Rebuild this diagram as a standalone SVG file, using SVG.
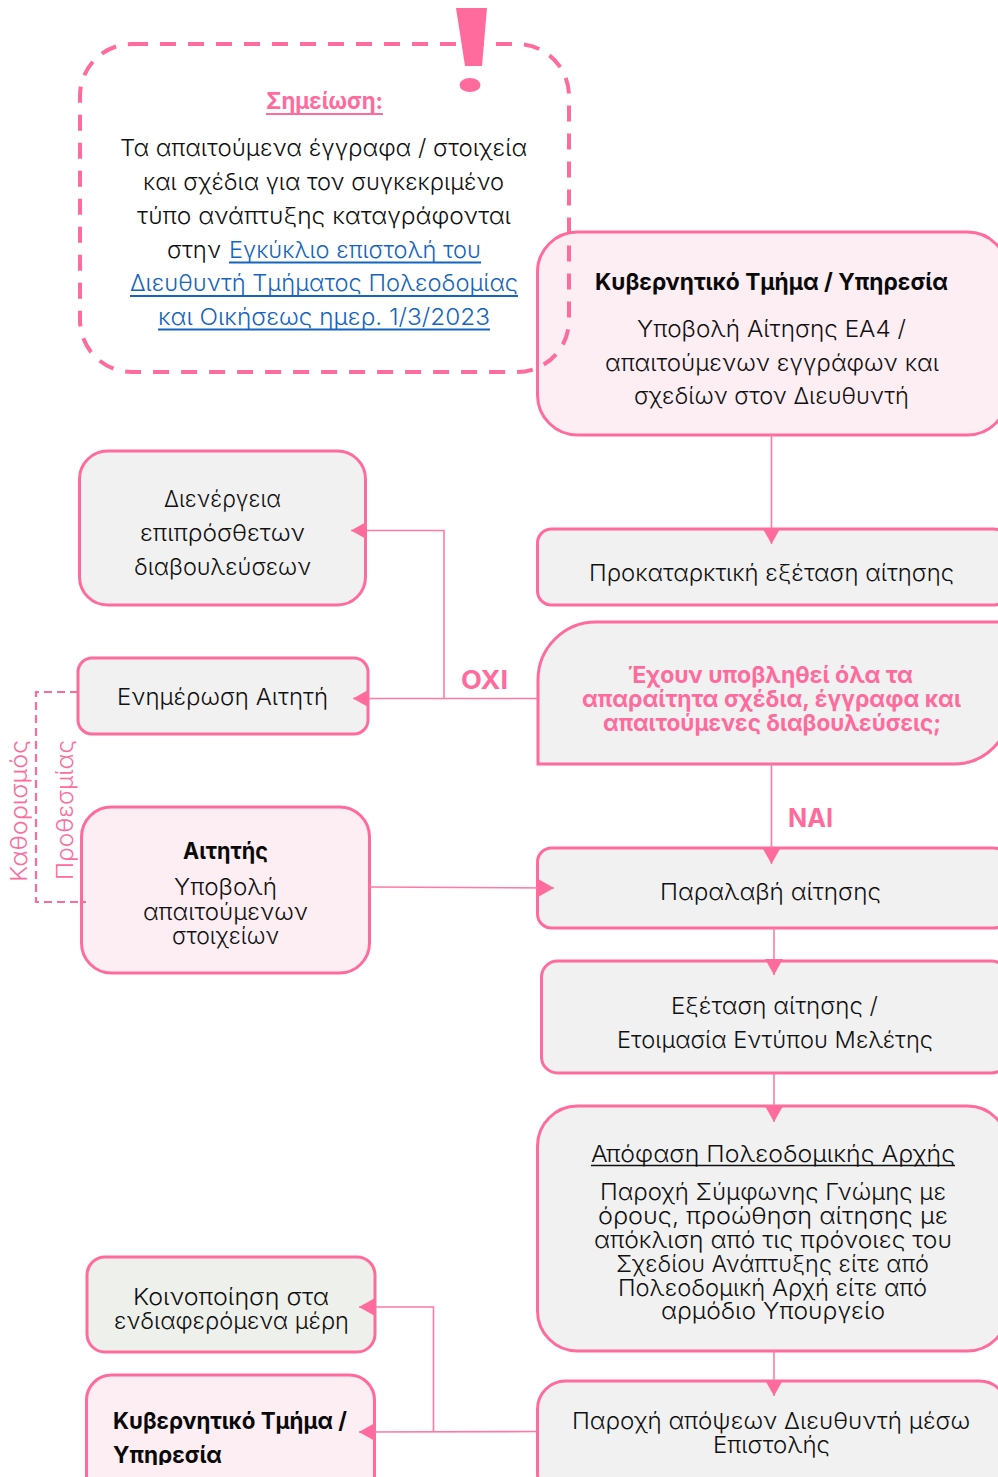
<svg xmlns="http://www.w3.org/2000/svg" width="998" height="1477" viewBox="0 0 998 1477">
<style>
text{font-family:"Inter","Noto Sans","DejaVu Sans",sans-serif;font-size:23px;font-weight:300;fill:#111}
.b{font-weight:700;font-size:23px;fill:#0a0a0a}
.p{font-weight:700;fill:#ff6b9d}
.l{fill:#1565c0}
.r{font-size:23px;fill:#ff6b9d}
.box{stroke:#ff6b9d;stroke-width:3}
.g{fill:#f1f1f1}.k{fill:#fdeef3}.e{fill:#eef0eb}
.c{fill:none;stroke:#ff7aa6;stroke-width:1.6}
.d{fill:none;stroke:#ff6b9d;stroke-width:2.200;stroke-dasharray:8 5}
.ul{stroke:#1565c0;stroke-width:1.800}
</style>
<defs>
<marker id="a" markerUnits="userSpaceOnUse" markerWidth="17" markerHeight="18" refX="16" refY="9" orient="auto"><path d="M0 0L16 9L0 18Z" fill="#ff6b9d"/></marker>
<clipPath id="cut"><rect x="0" y="0" width="998" height="1465"/></clipPath>
</defs>
<g id="n-gov1"><rect class="box k" x="537.500" y="232" width="470" height="203" rx="40"/>
<text class="b" x="595" y="290" textLength="353" lengthAdjust="spacingAndGlyphs">Κυβερνητικό Τμήμα / Υπηρεσία</text>
<text x="637" y="337" textLength="269" lengthAdjust="spacingAndGlyphs">Υποβολή Αίτησης ΕΑ4 /</text>
<text x="605" y="371" textLength="334" lengthAdjust="spacingAndGlyphs">απαιτούμενων εγγράφων και</text>
<text x="634" y="404" textLength="275" lengthAdjust="spacingAndGlyphs">σχεδίων στον Διευθυντή</text></g>
<g id="n-note"><rect x="80" y="44" width="489" height="328" rx="52" fill="none" stroke="#ff6b9d" stroke-width="4" stroke-dasharray="16 12"/>
<path d="M456 8H487L482 66H465Z" fill="#ff6b9d"/><ellipse cx="470" cy="85" rx="10.500" ry="7" fill="#ff6b9d"/>
<text class="p" x="266" y="109" textLength="117" lengthAdjust="spacingAndGlyphs">Σημείωση:</text>
<path d="M266 114H383" stroke="#ff6b9d" stroke-width="2"/>
<text x="120" y="156" textLength="407" lengthAdjust="spacingAndGlyphs">Τα απαιτούμενα έγγραφα / στοιχεία</text>
<text x="143" y="190" textLength="361" lengthAdjust="spacingAndGlyphs">και σχέδια για τον συγκεκριμένο</text>
<text x="137" y="224" textLength="374" lengthAdjust="spacingAndGlyphs">τύπο ανάπτυξης καταγράφονται</text>
<text x="167" y="258" textLength="54" lengthAdjust="spacingAndGlyphs">στην</text>
<text class="l" x="229" y="258" textLength="252" lengthAdjust="spacingAndGlyphs">Εγκύκλιο επιστολή του</text>
<path class="ul" d="M229 262.500H481"/>
<text class="l" x="130" y="291" textLength="388" lengthAdjust="spacingAndGlyphs">Διευθυντή Τμήματος Πολεοδομίας</text>
<path class="ul" d="M130 296H518"/>
<text class="l" x="158" y="325" textLength="332" lengthAdjust="spacingAndGlyphs">και Οικήσεως ημερ. 1/3/2023</text>
<path class="ul" d="M158 329.500H490"/></g>
<g id="n-prelim"><rect class="box g" x="537.500" y="529" width="470" height="76" rx="14"/>
<text x="589" y="581" textLength="365" lengthAdjust="spacingAndGlyphs">Προκαταρκτική εξέταση αίτησης</text></g>
<g id="n-decision"><path class="box g" d="M538 764V680A58 58 0 0 1 596 622H1010V708A56 56 0 0 1 954 764Z"/>
<text class="p" x="628" y="683" textLength="285" lengthAdjust="spacingAndGlyphs">Έχουν υποβληθεί όλα τα</text>
<text class="p" x="582" y="707" textLength="379" lengthAdjust="spacingAndGlyphs">απαραίτητα σχέδια, έγγραφα και</text>
<text class="p" x="603" y="731" textLength="338" lengthAdjust="spacingAndGlyphs">απαιτούμενες διαβουλεύσεις;</text></g>
<g id="n-receive"><rect class="box g" x="537.500" y="848" width="470" height="80" rx="14"/>
<text x="660" y="900" textLength="221" lengthAdjust="spacingAndGlyphs">Παραλαβή αίτησης</text></g>
<g id="n-exam"><rect class="box g" x="541.500" y="961" width="466" height="112" rx="16"/>
<text x="671" y="1014" textLength="207" lengthAdjust="spacingAndGlyphs">Εξέταση αίτησης /</text>
<text x="617" y="1048" textLength="316" lengthAdjust="spacingAndGlyphs">Ετοιμασία Εντύπου Μελέτης</text></g>
<g id="n-decide"><rect class="box g" x="537.500" y="1106" width="470" height="245" rx="40"/>
<text x="591" y="1162" textLength="364" lengthAdjust="spacingAndGlyphs">Απόφαση Πολεοδομικής Αρχής</text>
<path d="M591 1165.500H955" stroke="#111" stroke-width="1.500"/>
<text x="600" y="1200" textLength="346" lengthAdjust="spacingAndGlyphs">Παροχή Σύμφωνης Γνώμης με</text>
<text x="598" y="1224" textLength="350" lengthAdjust="spacingAndGlyphs">όρους, προώθηση αίτησης με</text>
<text x="594" y="1248" textLength="358" lengthAdjust="spacingAndGlyphs">απόκλιση από τις πρόνοιες του</text>
<text x="616" y="1272" textLength="313" lengthAdjust="spacingAndGlyphs">Σχεδίου Ανάπτυξης είτε από</text>
<text x="618" y="1296" textLength="309" lengthAdjust="spacingAndGlyphs">Πολεοδομική Αρχή είτε από</text>
<text x="661" y="1319" textLength="224" lengthAdjust="spacingAndGlyphs">αρμόδιο Υπουργείο</text></g>
<g id="n-opinion"><rect class="box g" x="537.500" y="1381" width="470" height="120" rx="28"/>
<text x="572" y="1429" textLength="398" lengthAdjust="spacingAndGlyphs">Παροχή απόψεων Διευθυντή μέσω</text>
<text x="713" y="1453" textLength="117" lengthAdjust="spacingAndGlyphs">Επιστολής</text></g>
<g id="n-consult"><rect class="box g" x="79.500" y="451" width="286" height="154" rx="28"/>
<text x="164" y="507" textLength="117" lengthAdjust="spacingAndGlyphs">Διενέργεια</text>
<text x="140" y="541" textLength="165" lengthAdjust="spacingAndGlyphs">επιπρόσθετων</text>
<text x="134" y="575" textLength="177" lengthAdjust="spacingAndGlyphs">διαβουλεύσεων</text></g>
<g id="n-inform"><rect class="box g" x="78" y="658" width="290" height="76" rx="14"/>
<text x="117" y="705" textLength="211" lengthAdjust="spacingAndGlyphs">Ενημέρωση Αιτητή</text></g>
<g id="n-applicant"><rect class="box k" x="81.500" y="807" width="288" height="166" rx="30"/>
<text class="b" x="183" y="859" textLength="85" lengthAdjust="spacingAndGlyphs">Αιτητής</text>
<text x="174" y="895" textLength="103" lengthAdjust="spacingAndGlyphs">Υποβολή</text>
<text x="143" y="920" textLength="165" lengthAdjust="spacingAndGlyphs">απαιτούμενων</text>
<text x="172" y="944" textLength="107" lengthAdjust="spacingAndGlyphs">στοιχείων</text></g>
<g id="n-notify"><rect class="box e" x="87" y="1257" width="288" height="95" rx="18"/>
<text x="133" y="1305" textLength="196" lengthAdjust="spacingAndGlyphs">Κοινοποίηση στα</text>
<text x="114" y="1329" textLength="235" lengthAdjust="spacingAndGlyphs">ενδιαφερόμενα μέρη</text></g>
<g id="n-gov2"><rect class="box k" x="86.500" y="1375" width="288" height="130" rx="25"/>
<g clip-path="url(#cut)"><text class="b" x="113" y="1429" textLength="234" lengthAdjust="spacingAndGlyphs">Κυβερνητικό Τμήμα /</text>
<text class="b" x="113" y="1463" textLength="109" lengthAdjust="spacingAndGlyphs">Υπηρεσία</text></g></g>
<g id="connectors">
<path class="c" d="M771.500 435V544" marker-end="url(#a)"/>
<path class="c" d="M537 698.500H353" marker-end="url(#a)"/>
<path class="c" d="M444 698.500V530.500H351" marker-end="url(#a)"/>
<path class="c" d="M771.500 764V864" marker-end="url(#a)"/>
<path class="c" d="M370 887L554 888" marker-end="url(#a)"/>
<path class="c" d="M774 928V975" marker-end="url(#a)"/>
<path class="c" d="M774 1073V1122" marker-end="url(#a)"/>
<path class="c" d="M774 1351V1396" marker-end="url(#a)"/>
<path class="c" d="M537 1431.500L359 1432" marker-end="url(#a)"/>
<path class="c" d="M433.500 1431.500V1307H359" marker-end="url(#a)"/>
<path class="d" d="M78 692H36V902H86"/>
</g>
<text class="p" style="font-size:25px" x="461" y="689" textLength="47" lengthAdjust="spacingAndGlyphs">ΟΧΙ</text>
<text class="p" style="font-size:25px" x="788" y="827" textLength="45" lengthAdjust="spacingAndGlyphs">ΝΑΙ</text>
<text class="r" transform="translate(27 882) rotate(-90)" textLength="142" lengthAdjust="spacingAndGlyphs">Καθορισμός</text>
<text class="r" transform="translate(73 880) rotate(-90)" textLength="140" lengthAdjust="spacingAndGlyphs">Προθεσμίας</text>
</svg>
